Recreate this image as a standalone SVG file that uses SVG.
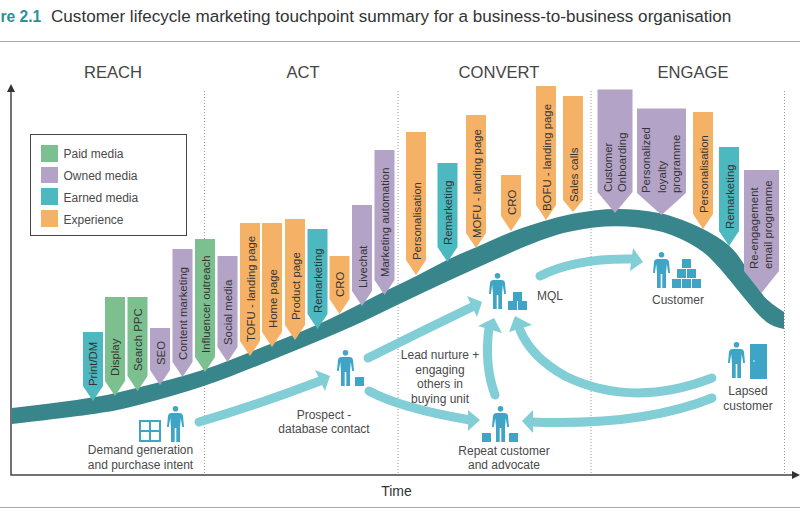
<svg xmlns="http://www.w3.org/2000/svg" width="800" height="526" viewBox="0 0 800 526">
<style>
text{font-family:"Liberation Sans",Arial,sans-serif;font-size:12px;fill:#4a4a4a}
.f text{fill:#333;font-size:11.4px}
.o{fill:#f5b266}.p{fill:#b3a3c6}.t{fill:#4db8bf}.g{fill:#7dc08f}
.ph{font-size:16.6px;text-anchor:middle;fill:#454545}
.c{text-anchor:middle}
.dot{stroke:#999;stroke-width:1;stroke-dasharray:1 2;fill:none}
.rule{stroke:#aaa;stroke-width:1;fill:none}
.axis{stroke:#444;stroke-width:1.5;fill:none}
.arr{stroke:#82ced6;stroke-width:9;fill:none;stroke-linecap:round}
.head{fill:#82ced6}
.ic{fill:#3fa5c6}
</style>
<defs>
<g id="person"><circle cx="8.500" cy="2.800" r="2.800"/><path d="M4.500 7H12.500Q15.500 7 16 10L17 21H15.200L13.800 12L13 21V36H9.300V22H7.700V36H4V21L3.200 12L1.800 21H0L1 10Q1.500 7 4.500 7Z"/></g>
<rect id="box" width="9" height="9"/>
</defs>
<rect width="800" height="526" fill="#fff"/>
<g id="title">
<text x="0.500" y="22" style="font-size:15.600px;font-weight:bold;fill:#2f8f96">re 2.1</text>
<text x="51" y="22" style="font-size:17.100px;fill:#333">Customer lifecycle marketing touchpoint summary for a business-to-business organisation</text>
<path class="rule" d="M0 41.500H800M0 507.500H800"/>
</g>
<g id="phases">
<text class="ph" x="113" y="78">REACH</text>
<text class="ph" x="303" y="78">ACT</text>
<text class="ph" x="499" y="78">CONVERT</text>
<text class="ph" x="693" y="78">ENGAGE</text>
<path class="dot" d="M204.500 91V473M398 91V473M591 91V473M784.500 91V473"/>
</g>
<g id="axes">
<path class="axis" d="M11 90V475H796"/>
<path fill="#333" d="M11 84L15 92H7ZM800 475L792 471V479Z"/>
<text x="396.500" y="496" class="c" style="font-size:14px;fill:#333">Time</text>
</g>
<path id="curve" fill="#38858c" d="M12 408Q90 399 113.500 393.500Q137 388 170 379.500Q203 371 231.500 359.500Q260 348 289 336.500Q318 325 340 314Q362 303 372.500 297.500Q383 292 400 284Q417 276 432.500 267.500Q448 259 462.500 253Q477 247 493.500 239.500Q510 232 525 227Q540 222 556.500 217.500Q573 213 594 210.500Q615 208 638.500 210Q662 212 682.500 220Q703 228 716.500 236.500Q730 245 736.500 253.500Q743 262 751.500 277Q760 292 765 297.500Q770 303 784 312V329Q773 327 766.500 322Q760 317 750 305Q740 293 730 280.500Q720 268 710 258Q700 248 681 239Q662 230 638.500 227.500Q615 225 594 227.500Q573 230 556.500 235Q540 240 525 246.500Q510 253 480 266.500Q450 280 423.500 292.500Q397 305 373.500 316.500Q350 328 305 346.500Q260 365 231.500 376Q203 387 171.500 396Q140 405 120 409.500Q100 414 12 424Z"/>
<g id="legend">
<rect x="30.500" y="134.500" width="156" height="101" fill="#fff" stroke="#444"/>
<rect class="g" x="41" y="145" width="17" height="17"/><text x="63.500" y="158">Paid media</text>
<rect class="p" x="41" y="167" width="17" height="16"/><text x="63.500" y="180">Owned media</text>
<rect class="t" x="41" y="188" width="17" height="17"/><text x="63.500" y="202">Earned media</text>
<rect class="o" x="41" y="210" width="17" height="17"/><text x="63.500" y="224">Experience</text>
</g>
<g id="flags" class="f">
<g id="f-print"><polygon class="t" points="83,332 103,332 103,386 93,401 83,386"/><text transform="translate(97,386) rotate(-90)">Print/DM</text></g>
<g id="f-display"><polygon class="g" points="105,297 125,297 125,381 115,396 105,381"/><text transform="translate(119,376) rotate(-90)">Display</text></g>
<g id="f-ppc"><polygon class="g" points="127.500,297 147.500,297 147.500,376 137.500,391 127.500,376"/><text transform="translate(142,371) rotate(-90)">Search PPC</text></g>
<g id="f-seo"><polygon class="p" points="150,328 170,328 170,370 160,385 150,370"/><text transform="translate(164.500,365) rotate(-90)">SEO</text></g>
<g id="f-content"><polygon class="p" points="172.500,249 192.500,249 192.500,362 182.500,377 172.500,362"/><text transform="translate(187,360) rotate(-90)">Content marketing</text></g>
<g id="f-influencer"><polygon class="g" points="195,239 215,239 215,357 205,372 195,357"/><text transform="translate(209.500,353) rotate(-90)">Influencer outreach</text></g>
<g id="f-social"><polygon class="p" points="217.500,256 237.500,256 237.500,347 227.500,362 217.500,347"/><text transform="translate(232,345) rotate(-90)">Social media</text></g>
<g id="f-tofu"><polygon class="o" points="240,223 260,223 260,341 250,356 240,341"/><text transform="translate(254.500,342) rotate(-90)">TOFU - landing page</text></g>
<g id="f-home"><polygon class="o" points="262,223 282,223 282,332 272,347 262,332"/><text transform="translate(276.500,328) rotate(-90)">Home page</text></g>
<g id="f-product"><polygon class="o" points="285,219 305,219 305,325 295,340 285,325"/><text transform="translate(299.500,320) rotate(-90)">Product page</text></g>
<g id="f-remark1"><polygon class="t" points="307.500,229 327.500,229 327.500,314 317.500,329 307.500,314"/><text transform="translate(322,313) rotate(-90)">Remarketing</text></g>
<g id="f-cro1"><polygon class="o" points="329.500,256 349.500,256 349.500,299 339.500,314 329.500,299"/><text transform="translate(344,297) rotate(-90)">CRO</text></g>
<g id="f-livechat"><polygon class="p" points="352,205 372,205 372,291 362,306 352,291"/><text transform="translate(366.500,288) rotate(-90)">Livechat</text></g>
<g id="f-automation"><polygon class="p" points="374.500,150 394.500,150 394.500,280 384.500,295 374.500,280"/><text transform="translate(389,277) rotate(-90)">Marketing automation</text></g>
<g id="f-pers1"><polygon class="o" points="406,132 426,132 426,260 416,275 406,260"/><text transform="translate(420.500,260) rotate(-90)">Personalisation</text></g>
<g id="f-remark2"><polygon class="t" points="437.500,163 457.500,163 457.500,247 447.500,262 437.500,247"/><text transform="translate(452,245) rotate(-90)">Remarketing</text></g>
<g id="f-mofu"><polygon class="o" points="466,115 486,115 486,233 476,248 466,233"/><text transform="translate(480.500,238) rotate(-90)">MOFU - landing page</text></g>
<g id="f-cro2"><polygon class="o" points="501,175 521,175 521,216 511,231 501,216"/><text transform="translate(515.500,215) rotate(-90)">CRO</text></g>
<g id="f-bofu"><polygon class="o" points="536,86 556,86 556,205 546,220 536,205"/><text transform="translate(550.500,211) rotate(-90)">BOFU - landing page</text></g>
<g id="f-sales"><polygon class="o" points="563,96 583,96 583,200 573,212 563,200"/><text transform="translate(577.500,202) rotate(-90)">Sales calls</text></g>
<g id="f-onboard"><polygon class="p" points="597.500,89.500 632.500,89.500 632.500,192 615,213 597.500,192"/><text transform="translate(611.500,192) rotate(-90)">Customer</text><text transform="translate(626,192) rotate(-90)">Onboarding</text></g>
<g id="f-loyalty"><polygon class="p" points="637,108.500 686,108.500 686,193 661.500,215 637,193"/><text transform="translate(650,193) rotate(-90)">Personalized</text><text transform="translate(666,193) rotate(-90)">loyalty</text><text transform="translate(680,193) rotate(-90)">programme</text></g>
<g id="f-pers2"><polygon class="o" points="693,112 713,112 713,214 703,229 693,214"/><text transform="translate(707.500,213) rotate(-90)">Personalisation</text></g>
<g id="f-remark3"><polygon class="t" points="719,147 739,147 739,231 729,246 719,231"/><text transform="translate(733.500,229) rotate(-90)">Remarketing</text></g>
<g id="f-reengage"><polygon class="p" points="744,170 779,170 779,271 761.500,293 744,271"/><text transform="translate(757.500,269) rotate(-90)">Re-engagement</text><text transform="translate(772,269) rotate(-90)">email programme</text></g>
</g>
<g id="connectors">
<path class="arr" d="M199 422Q260 404 320 381"/><polygon class="head" points="315,370 330,376 325,391"/>
<path class="arr" d="M368 358Q420 332 472 307"/><polygon class="head" points="467,296 482,302 477,317"/>
<path class="arr" d="M369 391Q400 408 470 420"/><polygon class="head" points="468,410 480,420 468,431"/>
<path class="arr" d="M495 395Q484 365 489 328"/><polygon class="head" points="478,326 494,318 502,333"/>
<path class="arr" d="M712 378C660 398 610 398 565 376C540 362 527 347 520 330"/><polygon class="head" points="515,316 532,325 509,332"/>
<path class="arr" d="M712 398C670 415 610 425 530 422"/><polygon class="head" points="533,410 522,421 533,433"/>
<path class="arr" d="M540 276Q575 258 632 259"/><polygon class="head" points="633,248 643,262 630,271"/>
</g>
<g id="n-demand" class="ic">
<rect x="140" y="421" width="20" height="20" fill="none" stroke="#3fa5c6" stroke-width="2"/><path d="M150 421V441M140 431H160" fill="none" stroke="#3fa5c6" stroke-width="2"/>
<use href="#person" x="167" y="406"/>
<text class="c" x="140.500" y="454">Demand generation</text><text class="c" x="140.500" y="469">and purchase intent</text>
</g>
<g id="n-prospect" class="ic">
<use href="#person" x="337" y="350"/><use href="#box" x="355" y="377"/>
<text class="c" x="324" y="419">Prospect -</text><text class="c" x="324" y="433">database contact</text>
</g>
<g id="n-mql" class="ic">
<use href="#person" x="489" y="273"/><use href="#box" x="513" y="292"/><use href="#box" x="508" y="301"/><use href="#box" x="518" y="301"/>
<text x="537" y="300">MQL</text>
</g>
<g id="n-customer" class="ic">
<use href="#person" x="653" y="252"/><use href="#box" x="682" y="259"/><use href="#box" x="677" y="269"/><use href="#box" x="687" y="269"/><use href="#box" x="672" y="279"/><use href="#box" x="682" y="279"/><use href="#box" x="692" y="279"/>
<text class="c" x="678" y="304">Customer</text>
</g>
<g id="n-repeat" class="ic">
<use href="#person" x="492" y="406"/><use href="#box" x="482" y="433"/><use href="#box" x="509" y="433"/>
<text class="c" x="504" y="455">Repeat customer</text><text class="c" x="504" y="469">and advocate</text>
</g>
<g id="n-lapsed" class="ic">
<use href="#person" x="728" y="342"/><rect x="750" y="344" width="17" height="35"/><circle cx="754" cy="361" r="0.800" fill="#fff"/>
<text class="c" x="748" y="395">Lapsed</text><text class="c" x="748" y="410">customer</text>
</g>
<g id="n-nurture">
<text class="c" x="440" y="359">Lead nurture +</text><text class="c" x="440" y="374">engaging</text><text class="c" x="440" y="388">others in</text><text class="c" x="440" y="403">buying unit</text>
</g>
</svg>
